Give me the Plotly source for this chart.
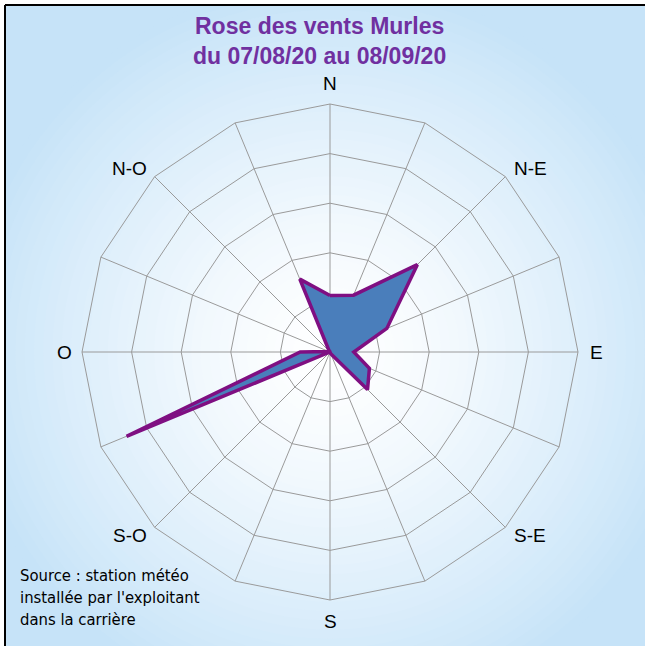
import math
import plotly.graph_objects as go

# Data
directions = ["N", "NNE", "NE", "ENE", "E", "ESE", "SE", "SSE",
              "S", "SSO", "SO", "OSO", "O", "ONO", "NO", "NNO"]
tick_labels = ["N", "", "N-E", "", "E", "", "S-E", "",
               "S", "", "S-O", "", "O", "", "N-O", ""]
frequencies = [1.14, 1.24, 2.49, 1.24, 0.48, 0.86, 1.07, 0.04,
               0.0, 0.0, 0.0, 4.44, 0.60, 0.02, 0.02, 1.59]
title_lines = ["Rose des vents Murles", "du 07/08/20 au 08/09/20"]
source_lines = ["Source : station météo", "installée par l'exploitant",
                "dans la carrière"]

W, H = 645, 646
cx, cy, R = 330, 352, 248

fig = go.Figure()

fig.add_trace(go.Scatterpolar(
    r=frequencies + [frequencies[0]],
    theta=directions + [directions[0]],
    mode="lines",
    fill="toself",
    fillcolor="#4a7ebb",
    line=dict(color="#7f0f82", width=3.5),
    hoverinfo="skip",
    showlegend=False,
))

# radial background gradient (white centre -> light blue)
edge = (198, 227, 248)
shapes = [dict(type="rect", xref="paper", yref="paper", layer="below",
               x0=5 / W, x1=1, y0=0, y1=1 - 5 / H,
               fillcolor="rgb(%d,%d,%d)" % edge, line=dict(width=0))]
N = 40
Rmax = 370
for i in range(N):
    r = Rmax * (1 - i / N)
    t = min(1.0, (r / Rmax) ** 1.4)
    col = tuple(round(255 + (e - 255) * t) for e in edge)
    shapes.append(dict(
        type="circle", xref="paper", yref="paper", layer="below",
        x0=(cx - r) / W, x1=(cx + r) / W,
        y0=1 - (cy + r) / H, y1=1 - (cy - r) / H,
        fillcolor="rgb(%d,%d,%d)" % col, line=dict(width=0),
    ))
# white outside the frame
shapes.append(dict(type="rect", xref="paper", yref="paper", layer="below",
                   x0=0, x1=4 / W, y0=0, y1=1, fillcolor="white", line=dict(width=0)))
shapes.append(dict(type="rect", xref="paper", yref="paper", layer="below",
                   x0=0, x1=1, y0=1 - 4 / H, y1=1, fillcolor="white", line=dict(width=0)))
# frame lines (left and top)
shapes.append(dict(type="line", xref="paper", yref="paper", layer="above",
                   x0=5 / W, x1=1, y0=1 - 5 / H, y1=1 - 5 / H,
                   line=dict(color="black", width=2)))
shapes.append(dict(type="line", xref="paper", yref="paper", layer="above",
                   x0=5 / W, x1=5 / W, y0=0, y1=1 - 5 / H,
                   line=dict(color="black", width=2)))

annotations = []
for i, line in enumerate(title_lines):
    annotations.append(dict(
        text="<b>%s</b>" % line, xref="paper", yref="paper",
        x=(cx - 11) / W, y=1 - (26 + 30 * i) / H,
        xanchor="center", yanchor="middle", showarrow=False,
        font=dict(family="Liberation Sans, Arial", size=23, color="#7030a0"),
    ))
for i, line in enumerate(source_lines):
    annotations.append(dict(
        text=line, xref="paper", yref="paper",
        x=18 / W, y=1 - (575 + 22 * i) / H,
        xanchor="left", yanchor="middle", showarrow=False,
        font=dict(family="Liberation Sans Narrow, Arial Narrow, DejaVu Sans Condensed, Liberation Sans",
                  size=16.5, color="black"),
    ))
# direction labels placed outside the outer polygon
for k, lab in enumerate(tick_labels):
    if not lab:
        continue
    ang = math.radians(22.5 * k)
    s, c = math.sin(ang), math.cos(ang)
    if k % 4 == 0:
        x = cx + 266 * s
        y = cy - 269 * c
    else:
        x = cx + 283 * s
        y = cy - 259 * c
    annotations.append(dict(
        text=lab, xref="paper", yref="paper", x=x / W, y=1 - y / H,
        xanchor="center", yanchor="middle", showarrow=False,
        font=dict(family="Liberation Sans, Arial", size=19, color="black"),
    ))

fig.update_layout(
    width=W, height=H,
    margin=dict(l=0, r=0, t=0, b=0),
    paper_bgcolor="white",
    shapes=shapes,
    annotations=annotations,
    polar=dict(
        domain=dict(x=[(cx - R) / W, (cx + R) / W],
                    y=[1 - (cy + R) / H, 1 - (cy - R) / H]),
        bgcolor="rgba(0,0,0,0)",
        gridshape="linear",
        angularaxis=dict(
            type="category",
            categoryorder="array", categoryarray=directions,
            direction="clockwise", rotation=90,
            showticklabels=False, ticks="",
            showline=True, linecolor="#9a9a9a", linewidth=1,
            gridcolor="#9a9a9a", gridwidth=1,
        ),
        radialaxis=dict(
            range=[0, 5], dtick=1, showticklabels=False, ticks="",
            showline=False, gridcolor="#9a9a9a", gridwidth=1,
        ),
    ),
)

fig.write_html("out.html", config={"displayModeBar": False},
               post_script="document.body.style.margin='0px';document.body.style.overflow='hidden';")
